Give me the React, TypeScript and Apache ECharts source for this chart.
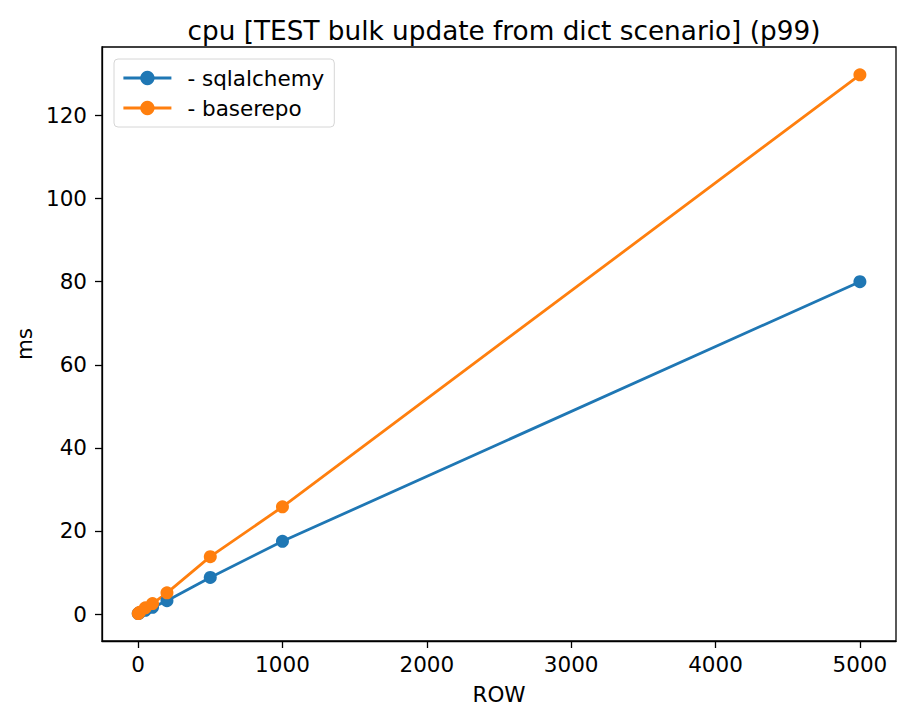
import React, { useEffect, useRef } from "react";
import * as echarts from "echarts";

const rows = [1, 10, 50, 100, 200, 500, 1000, 5000];
const sqlalchemy = [0.1, 0.3, 0.9, 1.6, 3.2, 8.8, 17.5, 80.0];
const baserepo = [0.1, 0.4, 1.5, 2.5, 5.1, 13.8, 25.8, 129.8];
const xTicks = [0, 1000, 2000, 3000, 4000, 5000];
const yTicks = [0, 20, 40, 60, 80, 100, 120];

const FONT = "DejaVu Sans";
const FS = 21.5;

export default function App() {
  const ref = useRef<HTMLDivElement>(null);
  useEffect(() => {
    if (!ref.current) return;
    const chart = echarts.init(ref.current, undefined, { renderer: "svg" });
    const mk = (vals: number[]) => rows.map((r, i) => [r, vals[i]]);
    chart.setOption({
      animation: false,
      backgroundColor: "#ffffff",
      textStyle: { fontFamily: FONT },
      title: {
        text: "cpu [TEST bulk update from dict scenario] (p99)",
        left: 499,
        textAlign: "center",
        top: 13,
        textStyle: { fontFamily: FONT, fontSize: 26.3, fontWeight: "normal", color: "#000" },
      },
      legend: {
        left: 114,
        top: 59,
        orient: "vertical",
        itemWidth: 48,
        itemHeight: 18,
        itemGap: 8,
        padding: [8, 10, 8, 8],
        borderColor: "#d6d6d6",
        borderWidth: 1,
        borderRadius: 4,
        backgroundColor: "rgba(255,255,255,0.8)",
        lineStyle: { width: 2.8 },
        textStyle: { fontFamily: FONT, fontSize: FS, color: "#000", padding: [0, 0, 0, 11] },
        data: ["- sqlalchemy", "- baserepo"],
      },
      grid: {
        left: 102,
        right: 16,
        top: 47,
        bottom: 80,
        show: true,
        borderColor: "#000",
        borderWidth: 1.3,
        containLabel: false,
      },
      xAxis: {
        type: "value",
        min: -250,
        max: 5250,
        name: "ROW",
        nameLocation: "middle",
        nameGap: 42,
        nameTextStyle: { fontFamily: FONT, fontSize: FS, color: "#000" },
        axisLine: { show: true, onZero: false, lineStyle: { color: "#000", width: 1.3 } },
        axisTick: { show: true, length: 7, lineStyle: { color: "#000", width: 1.3 }, customValues: xTicks },
        axisLabel: {
          fontFamily: FONT,
          fontSize: FS,
          color: "#000",
          margin: 12,
          customValues: xTicks,
          formatter: (v: number) => String(v),
        },
        splitLine: { show: false },
      },
      yAxis: {
        type: "value",
        min: -6.5,
        max: 136.5,
        name: "ms",
        nameLocation: "middle",
        nameGap: 67,
        nameRotate: 90,
        nameTextStyle: { fontFamily: FONT, fontSize: FS, color: "#000" },
        axisLine: { show: true, onZero: false, lineStyle: { color: "#000", width: 1.3 } },
        axisTick: { show: true, length: 7, lineStyle: { color: "#000", width: 1.3 }, customValues: yTicks },
        axisLabel: {
          fontFamily: FONT,
          fontSize: FS,
          color: "#000",
          margin: 15,
          customValues: yTicks,
          formatter: (v: number) => String(v),
        },
        splitLine: { show: false },
      },
      series: [
        {
          name: "- sqlalchemy",
          type: "line",
          data: mk(sqlalchemy),
          symbol: "circle",
          symbolSize: 13,
          showAllSymbol: true,
          color: "#1f77b4",
          lineStyle: { width: 2.8, color: "#1f77b4" },
          itemStyle: { color: "#1f77b4" },
        },
        {
          name: "- baserepo",
          type: "line",
          data: mk(baserepo),
          symbol: "circle",
          symbolSize: 13,
          showAllSymbol: true,
          color: "#ff7f0e",
          lineStyle: { width: 2.8, color: "#ff7f0e" },
          itemStyle: { color: "#ff7f0e" },
        },
      ],
    });
    return () => chart.dispose();
  }, []);
  return (
    <div
      ref={ref}
      style={{ position: "fixed", left: 0, top: 0, width: 912, height: 721 }}
    />
  );
}
